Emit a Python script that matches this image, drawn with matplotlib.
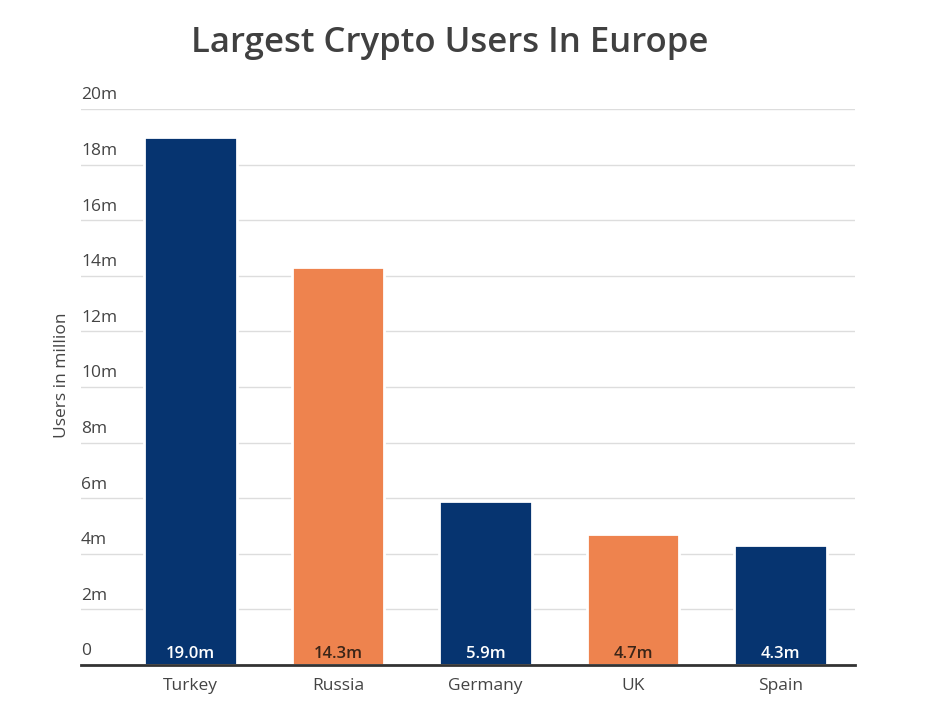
import matplotlib.pyplot as plt

# Data
countries = ['Turkey', 'Russia', 'Germany', 'UK', 'Spain']
users = [19.0, 14.3, 5.9, 4.7, 4.3]
value_labels = ['19.0m', '14.3m', '5.9m', '4.7m', '4.3m']
yticks = [0, 2, 4, 6, 8, 10, 12, 14, 16, 18, 20]
ytick_labels = ['0', '2m', '4m', '6m', '8m', '10m', '12m', '14m', '16m', '18m', '20m']

blue = '#063470'
orange = '#ee834e'
colors = [blue, orange, blue, orange, blue]
text_colors = ['white', '#3b2518', 'white', '#3b2518', 'white']

plt.rcParams['font.family'] = ['Open Sans', 'DejaVu Sans']

fig = plt.figure(figsize=(9.28, 7.16), dpi=100)
ax = fig.add_axes([0.0873, 0.0712, 0.834, 0.7766])

x = list(range(len(countries)))
ax.bar(x, users, width=0.63, color=colors, edgecolor='white', linewidth=2, zorder=3)

for xi, v, lab, tc in zip(x, users, value_labels, text_colors):
    ax.text(xi, 0.38, lab, ha='center', va='center', fontsize=12, fontweight='semibold',
            color=tc, zorder=4)

ax.set_xlim(-0.742, 4.505)
ax.set_ylim(0, 20)
ax.set_yticks(yticks)
ax.set_yticklabels([])
ax.yaxis.grid(True, color='#dddddd', linewidth=1, zorder=1)
ax.tick_params(axis='y', length=0)

ytrans = ax.get_yaxis_transform()
for v, lab in zip(yticks, ytick_labels):
    ax.text(0.0, v + 0.2, lab, transform=ytrans, ha='left', va='bottom',
            fontsize=12.5, color='#444444')

ax.set_xticks(x)
ax.set_xticklabels(countries, fontsize=12.5, color='#444444')
ax.tick_params(axis='x', length=0, pad=9)

for s in ['top', 'right', 'left']:
    ax.spines[s].set_visible(False)
ax.spines['bottom'].set_color('#333333')
ax.spines['bottom'].set_linewidth(2)
ax.spines['bottom'].set_zorder(5)

fig.text(0.0668, 0.476, 'Users in million', rotation=90, ha='center', va='center',
         fontsize=12.5, color='#444444')

fig.text(0.485, 0.94, 'Largest Crypto Users In Europe', ha='center', va='center',
         fontsize=25, fontweight='semibold', color='#404040')

fig.savefig('out.png', dpi=100)
